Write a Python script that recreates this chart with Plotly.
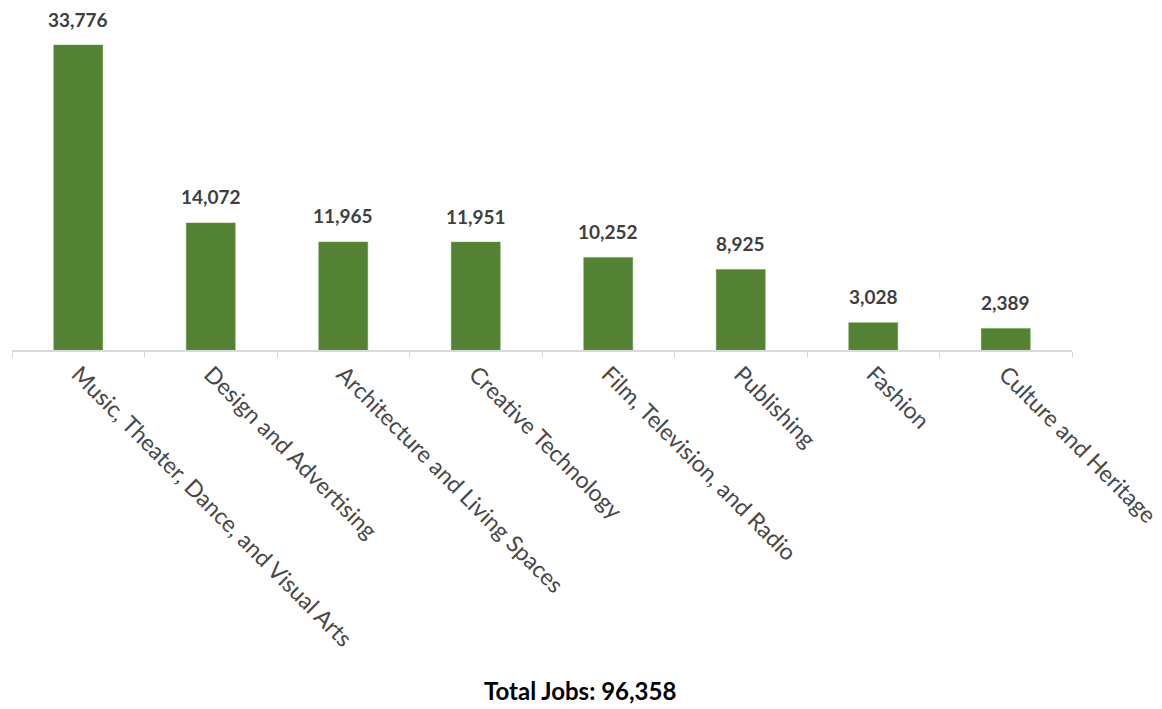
import plotly.graph_objects as go

categories = ["Music, Theater, Dance, and Visual Arts", "Design and Advertising",
              "Architecture and Living Spaces", "Creative Technology",
              "Film, Television, and Radio", "Publishing", "Fashion", "Culture and Heritage"]
jobs = [33776, 14072, 11965, 11951, 10252, 8925, 3028, 2389]
total_label = "Total Jobs: 96,358"

fig = go.Figure(go.Bar(
    x=categories, y=jobs,
    marker=dict(color="#548235", line=dict(color="#6a9a45", width=0.5)),
    hoverinfo="skip",
))

for c, v in zip(categories, jobs):
    fig.add_annotation(x=c, y=v, text=f"<b>{v:,}</b>", showarrow=False,
                       yanchor="middle", yshift=26,
                       font=dict(family="Lato", size=19, color="#404040"))

# page body has an 8px default margin; compensate in the margins
top = 2
plot_h = 350 - (8 + top)
fig.add_annotation(x=(580 - 12) / 1060, y=(350 - 690) / plot_h, xref="paper", yref="paper",
                   xanchor="center", yanchor="middle",
                   text=f"<b>{total_label}</b>", showarrow=False,
                   font=dict(family="Lato", size=24, color="#000000"))

fig.update_layout(
    width=1162, height=709,
    margin=dict(l=4, r=98, t=top, b=709 + 8 - 350, autoexpand=False),
    paper_bgcolor="white", plot_bgcolor="white",
    bargap=0.63, showlegend=False,
    xaxis=dict(showline=True, linecolor="#d9d9d9", linewidth=1.5,
               ticks="outside", tickson="boundaries", ticklen=6, tickcolor="#d9d9d9",
               tickangle=45, tickfont=dict(family="Lato", size=23, color="#484848"),
               showgrid=False, automargin=False),
    yaxis=dict(visible=False, range=[0, 33776 * plot_h / 305]),
)

fig.write_html("out.html")
